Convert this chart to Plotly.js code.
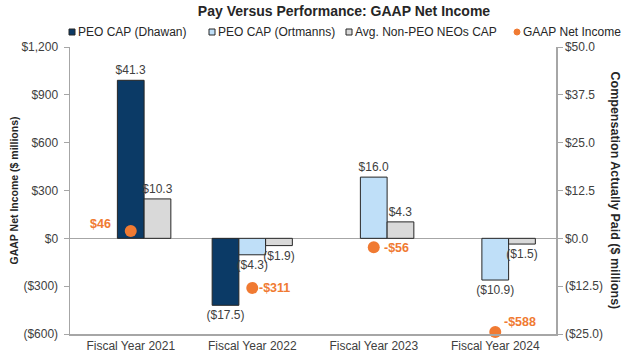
<!DOCTYPE html>
<html>
<head>
<meta charset="utf-8">
<script src="https://cdn.plot.ly/plotly-3.0.1.min.js"></script>
<style>html,body{margin:0;padding:0;background:#fff;}#chart{width:626px;height:361px;}</style>
</head>
<body>
<div id="chart"></div>
<script>
var categories = ["Fiscal Year 2021", "Fiscal Year 2022", "Fiscal Year 2023", "Fiscal Year 2024"];
var dhawanCAP = [41.3, -17.5, null, null];
var ortmannsCAP = [null, -4.3, 16.0, -10.9];
var nonPeoCAP = [10.3, -1.9, 4.3, -1.5];
var netIncome = [46, -311, -56, -588];
var seriesNames = ["PEO CAP (Dhawan)", "PEO CAP (Ortmanns)", "Avg. Non-PEO NEOs CAP", "GAAP Net Income"];
var leftTickVals = [-600, -300, 0, 300, 600, 900, 1200];
var leftTickText = ["($600)", "($300)", "$0", "$300", "$600", "$900", "$1,200"];
var rightTickVals = [-25, -12.5, 0, 12.5, 25, 37.5, 50];
var rightTickText = ["($25.0)", "($12.5)", "$0.0", "$12.5", "$25.0", "$37.5", "$50.0"];

function fmtCAP(v) {
  if (v === null) return null;
  return v < 0 ? "($" + Math.abs(v).toFixed(1) + ")" : "$" + v.toFixed(1);
}
function fmtNI(v) {
  return v < 0 ? "-$" + Math.abs(v) : "$" + v;
}

var W = 0.22;
var font = "Liberation Sans, Arial, sans-serif";
var txtColor = "#404040";
var edge = {color: "#262626", width: 1};
var colors = ["#0B3A66", "#BFDFF8", "#D9D9D9", "#F07A32"];

var barCommon = {
  type: "bar", x: categories, width: W, yaxis: "y",
  textposition: "outside", constraintext: "none", cliponaxis: false,
  textfont: {family: font, size: 12, color: txtColor},
  hoverinfo: "skip", showlegend: false
};

var t1 = Object.assign({}, barCommon, {
  name: seriesNames[0], y: dhawanCAP, text: dhawanCAP.map(fmtCAP),
  offset: [-W / 2, -1.5 * W, 0, 0],
  marker: {color: colors[0], line: edge}
});
var t2 = Object.assign({}, barCommon, {
  name: seriesNames[1], y: ortmannsCAP, text: ortmannsCAP.map(fmtCAP),
  offset: -W / 2,
  marker: {color: colors[1], line: edge}
});
var t3 = Object.assign({}, barCommon, {
  name: seriesNames[2], y: nonPeoCAP, text: nonPeoCAP.map(fmtCAP),
  offset: W / 2,
  marker: {color: colors[2], line: edge}
});
var t4 = {
  type: "scatter", mode: "markers", name: seriesNames[3],
  x: categories, y: netIncome, yaxis: "y2",
  marker: {color: colors[3], size: 12},
  cliponaxis: false, hoverinfo: "skip", showlegend: false
};

// labels for the net income points
var niShift = [[-30, 7], [22, 0], [23, -1], [25, 10]];
var annotations = netIncome.map(function (v, i) {
  return {x: categories[i], y: v, xref: "x", yref: "y2", text: "<b>" + fmtNI(v) + "</b>",
    showarrow: false, xanchor: "center", yanchor: "middle",
    xshift: niShift[i][0], yshift: niShift[i][1],
    font: {family: font, size: 12.5, color: colors[3]}};
});
annotations.push(
  {text: "<b>GAAP Net Income ($ millions)</b>", xref: "paper", yref: "paper", x: -57 / 486, y: 0.5,
    xanchor: "center", yanchor: "middle", textangle: -90, showarrow: false,
    font: {family: font, size: 10.5, color: "#262626"}},
  {text: "<b>Compensation Actually Paid ($ millions)</b>", xref: "paper", yref: "paper", x: 1 + 59 / 486, y: 0.5,
    xanchor: "center", yanchor: "middle", textangle: 90, showarrow: false,
    font: {family: font, size: 12.5, color: "#262626"}}
);

// legend (symbols + labels)
var legX = [69, 209, 346, 514];
var shapes = [];
seriesNames.forEach(function (name, i) {
  shapes.push({type: i < 3 ? "rect" : "circle", xref: "paper", yref: "paper",
    x0: (legX[i] - 70) / 486, x1: (legX[i] - 64) / 486,
    y0: (361 - 27 - 35) / 287, y1: (361 - 27 - 29) / 287,
    fillcolor: colors[i], line: {color: i < 3 ? "#262626" : colors[i], width: 1}});
  annotations.push({text: name, xref: "paper", yref: "paper",
    x: (legX[i] + 7 - 70) / 486, y: (361 - 27 - 32) / 287, xanchor: "left", yanchor: "middle",
    showarrow: false, font: {family: font, size: 12, color: "#262626"}});
});

var layout = {
  width: 626, height: 361,
  margin: {l: 70, r: 70, t: 47, b: 27},
  paper_bgcolor: "#fff", plot_bgcolor: "#fff",
  barmode: "overlay",
  font: {family: font, size: 12, color: txtColor},
  showlegend: false,
  title: {text: "<b>Pay Versus Performance: GAAP Net Income</b>",
    font: {family: font, size: 14, color: "#262626"},
    x: 344 / 626, xanchor: "center", xref: "container", y: 1 - 11 / 361, yanchor: "middle", yref: "container"},
  xaxis: {type: "category", showgrid: false, showline: true, linecolor: "#A6A6A6", linewidth: 1.5,
    ticks: "", tickfont: {family: font, size: 12, color: txtColor}, fixedrange: true},
  yaxis: {side: "right", range: [-25, 50], tickvals: rightTickVals, ticktext: rightTickText,
    showgrid: false, zeroline: true, zerolinecolor: "#A6A6A6", zerolinewidth: 1.5,
    showline: true, linecolor: "#A6A6A6", linewidth: 1.5, ticks: "outside", ticklen: 5, tickcolor: "#A6A6A6",
    tickfont: {family: font, size: 12, color: txtColor}},
  yaxis2: {side: "left", overlaying: "y", range: [-600, 1200], tickvals: leftTickVals, ticktext: leftTickText,
    showgrid: false, zeroline: false,
    showline: true, linecolor: "#A6A6A6", linewidth: 1.5, ticks: "outside", ticklen: 5, tickcolor: "#A6A6A6",
    ticklabelstandoff: 3,
    tickfont: {family: font, size: 12, color: txtColor}},
  shapes: shapes,
  annotations: annotations
};

Plotly.newPlot("chart", [t1, t2, t3, t4], layout, {displayModeBar: false, staticPlot: true});
</script>
</body>
</html>
